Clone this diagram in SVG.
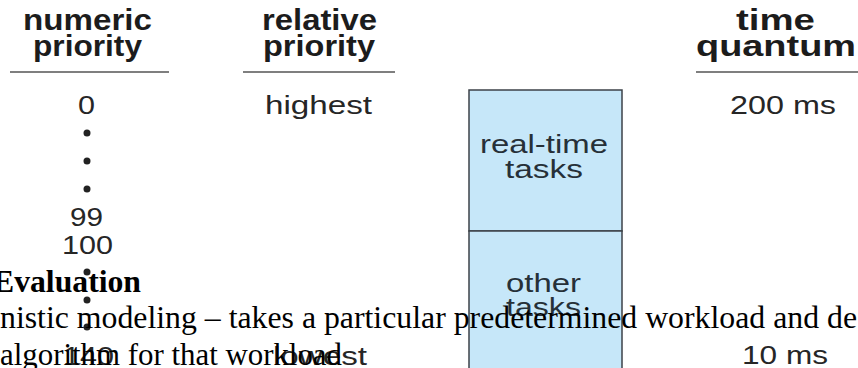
<svg xmlns="http://www.w3.org/2000/svg" width="858" height="368" viewBox="0 0 858 368">
<style>
.h{font-family:"Liberation Sans",Arial,sans-serif;font-weight:bold;font-size:29px;fill:#1c1c1c}
.t{font-family:"Liberation Sans",Arial,sans-serif;font-size:26px;fill:#262626}
.b{font-family:"Liberation Sans",Arial,sans-serif;font-size:26px;fill:#263038}
.s{font-family:"Liberation Serif","Times New Roman",serif;font-size:32px;fill:#000}
.rule{stroke:#555;stroke-width:1.5}
.dot{fill:#222}
.box{fill:#c6e7f9;stroke:#3c4248;stroke-width:1.5}
</style>
<rect width="858" height="368" fill="#fff"/>
<g id="headers">
<text class="h" x="23" y="30" textLength="129" lengthAdjust="spacingAndGlyphs">numeric</text>
<text class="h" x="33" y="56" textLength="109" lengthAdjust="spacingAndGlyphs">priority</text>
<text class="h" x="262" y="30" textLength="115" lengthAdjust="spacingAndGlyphs">relative</text>
<text class="h" x="263" y="56" textLength="112" lengthAdjust="spacingAndGlyphs">priority</text>
<text class="h" x="736" y="30" textLength="79" lengthAdjust="spacingAndGlyphs">time</text>
<text class="h" x="696" y="56" textLength="160" lengthAdjust="spacingAndGlyphs">quantum</text>
</g>
<g id="connectors">
<line class="rule" x1="10" y1="72" x2="169" y2="72"/>
<line class="rule" x1="243" y1="72" x2="395" y2="72"/>
<line class="rule" x1="696" y1="72" x2="858" y2="72"/>
</g>
<g id="numeric">
<text class="t" x="78" y="114" textLength="17" lengthAdjust="spacingAndGlyphs">0</text>
<circle class="dot" cx="87" cy="133" r="3.5"/>
<circle class="dot" cx="87" cy="161" r="3.5"/>
<circle class="dot" cx="87" cy="189" r="3.5"/>
<text class="t" x="70" y="226" textLength="33" lengthAdjust="spacingAndGlyphs">99</text>
<text class="t" x="62" y="254" textLength="51" lengthAdjust="spacingAndGlyphs">100</text>
<circle class="dot" cx="87" cy="272" r="3.5"/>
<circle class="dot" cx="87" cy="300" r="3.5"/>
<circle class="dot" cx="87" cy="327" r="3.5"/>
<text class="t" x="63" y="365" textLength="51" lengthAdjust="spacingAndGlyphs">140</text>
</g>
<g id="relative">
<text class="t" x="265" y="114" textLength="107" lengthAdjust="spacingAndGlyphs">highest</text>
<text class="t" x="273" y="365" textLength="94" lengthAdjust="spacingAndGlyphs">lowest</text>
</g>
<g id="quantum">
<text class="t" x="730" y="114" textLength="106" lengthAdjust="spacingAndGlyphs">200 ms</text>
<text class="t" x="742" y="364" textLength="86" lengthAdjust="spacingAndGlyphs">10 ms</text>
</g>
<g id="realtime">
<rect class="box" x="469" y="90" width="153" height="141"/>
<text class="b" x="480" y="153" textLength="128" lengthAdjust="spacingAndGlyphs">real-time</text>
<text class="b" x="505" y="178" textLength="78" lengthAdjust="spacingAndGlyphs">tasks</text>
</g>
<g id="other">
<rect class="box" x="469" y="231" width="153" height="145"/>
<text class="b" x="506" y="292" textLength="75" lengthAdjust="spacingAndGlyphs">other</text>
<text class="b" x="506" y="316" textLength="75" lengthAdjust="spacingAndGlyphs">tasks</text>
</g>
<g id="overlay">
<text class="s" x="-7" y="292" font-weight="bold" textLength="148" lengthAdjust="spacingAndGlyphs">Evaluation</text>
<text class="s" x="0" y="328" textLength="857" lengthAdjust="spacingAndGlyphs">nistic modeling – takes a particular predetermined workload and de</text>
<text class="s" x="0" y="365" textLength="342" lengthAdjust="spacingAndGlyphs">algorithm for that workload</text>
</g>
</svg>
